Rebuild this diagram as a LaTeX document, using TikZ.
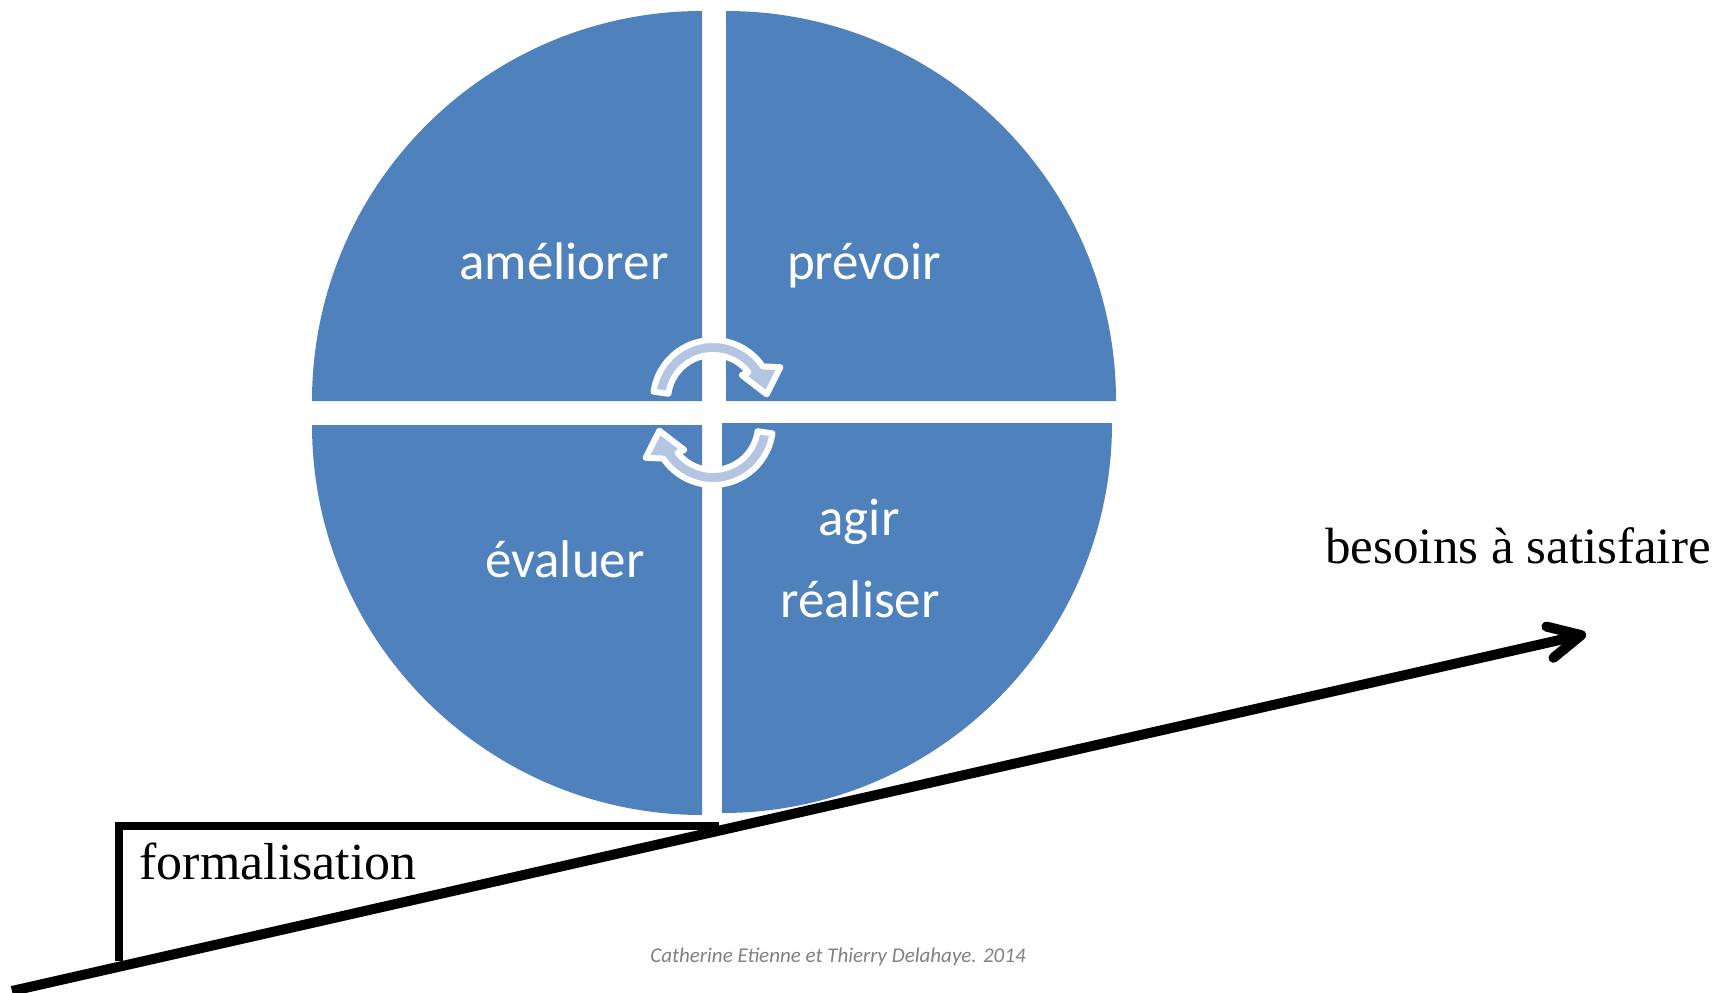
\documentclass[tikz,border=0pt]{standalone}
\usepackage{fontspec}
\setmainfont{Liberation Serif}
\newfontfamily\calib{Carlito}
\usetikzlibrary{arrows.meta}
\definecolor{quadblue}{HTML}{4F81BD}
\definecolor{arrowlight}{HTML}{B4C5E1}
\definecolor{creditgrey}{HTML}{808080}
\tikzset{
  quad/.style={fill=quadblue, draw=none},
  quadlabel/.style={text=white, font=\calib\fontsize{26.5pt}{30pt}\selectfont, inner sep=0pt, anchor=base},
  seriflabel/.style={text=black, font=\fontsize{25.5pt}{30pt}\selectfont, inner sep=0pt, anchor=base west},
  cyclearrow/.style={fill=arrowlight, draw=white, line width=3pt, line join=round},
  ramp/.style={draw=black, line width=5pt},
  bracket/.style={draw=black, line width=4pt, line join=miter}
}
\begin{document}
\begin{tikzpicture}[x=0.5pt, y=0.5pt]
\useasboundingbox (0,0) rectangle (1722,992);
% quadrants
\path[quad] (702,591) -- ++(-390,0) arc[start angle=180, end angle=90, radius=390] -- cycle;
\path[quad] (726,591) -- ++(0,390) arc[start angle=90, end angle=0, radius=390] -- cycle;
\path[quad] (702,567) -- ++(-390,0) arc[start angle=180, end angle=270, radius=390] -- cycle;
\path[quad] (722,569) -- ++(390,0) arc[start angle=0, end angle=-90, radius=390] -- cycle;
% cycle arrows
\begin{scope}[shift={(713,592)}]
\path[cyclearrow] (172:60) arc[start angle=172, end angle=34, radius=60] -- (26:75) -- (6:54) -- (41:38) -- (38:45) arc[start angle=38, end angle=172, radius=45] -- cycle;
\end{scope}
\begin{scope}[shift={(713,567)}, rotate=180]
\path[cyclearrow] (172:60) arc[start angle=172, end angle=34, radius=60] -- (26:75) -- (6:54) -- (41:38) -- (38:45) arc[start angle=38, end angle=172, radius=45] -- cycle;
\end{scope}
% quadrant labels
\node[quadlabel] (ameliorer) at (564,712) {améliorer};
\node[quadlabel] (prevoir) at (864,712) {prévoir};
\node[quadlabel] (evaluer) at (565,415) {évaluer};
\node[quadlabel] (agir) at (859,457) {agir};
\node[quadlabel] (realiser) at (860,375) {réaliser};
% ramp arrow
\coordinate (rampstart) at (12,1);
\coordinate (rampend) at (1586,358);
\draw[ramp, -{Straight Barb[length=16pt, width=16pt, round]}] (rampstart) -- (rampend);
% formalisation bracket
\coordinate (brright) at (719,166);
\coordinate (brcorner) at (119,166);
\coordinate (brbottom) at (119,31);
\draw[bracket] (brright) -- (brcorner) -- (brbottom);
\node[seriflabel, font=\fontsize{26pt}{30pt}\selectfont] (formalisation) at (139,113) {formalisation};
\node[seriflabel] (besoins) at (1325,429) {besoins à satisfaire};
% credit
\node[text=creditgrey, font=\calib\itshape\fontsize{10.5pt}{12pt}\selectfont, inner sep=0pt, anchor=base] (credit) at (838,30) {Catherine Etienne et Thierry Delahaye. 2014};
\end{tikzpicture}
\end{document}
